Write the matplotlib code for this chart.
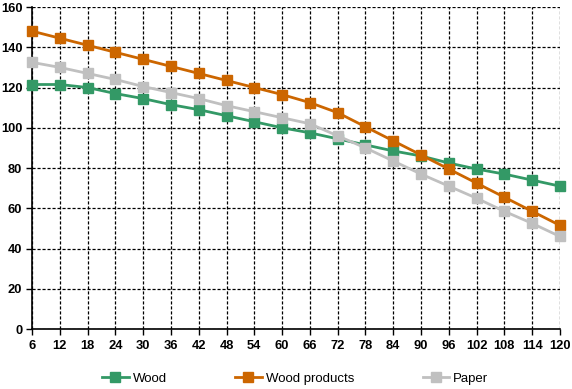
import matplotlib
matplotlib.use("Agg")
import matplotlib.pyplot as plt

months = [6, 12, 18, 24, 30, 36, 42, 48, 54, 60, 66, 72, 78, 84, 90, 96, 102, 108, 114, 120]
wood = [121.5, 121.5, 120, 117, 114.5, 111.5, 109, 106, 103, 100, 97.5, 94.5, 91.5, 88.5, 86, 82.5, 79.5, 77, 74, 71]
wood_products = [148, 144.5, 141, 137.5, 134, 130.5, 127, 123.5, 120, 116.5, 112.5, 107.5, 100.5, 93.5, 86.5, 79.5, 72.5, 65.5, 58.5, 51.5]
paper = [132.5, 130, 127, 124, 120.5, 117.5, 114.5, 111, 108, 105, 102, 96, 90, 83.5, 77, 71, 65, 58.5, 52.5, 46]
yticks = [0, 20, 40, 60, 80, 100, 120, 140, 160]

plt.rcParams['font.family'] = ['Liberation Sans', 'DejaVu Sans']

fig = plt.figure(figsize=(5.72, 3.89), dpi=100)
ax = fig.add_axes([0.056, 0.154, 0.923, 0.828])

series = [("Wood", wood, "#339966"), ("Wood products", wood_products, "#CC6600"), ("Paper", paper, "#C0C0C0")]
for name, vals, col in series:
    ax.plot(months, vals, color=col, lw=2, marker='s', ms=6.5, label=name, clip_on=False, zorder=3)

ax.set_xlim(6, 120)
ax.set_ylim(0, 160)
ax.set_xticks(months)
ax.set_yticks(yticks)
ax.grid(True, color='black', linestyle=(0, (2.5, 1.5)), linewidth=0.9)
ax.set_axisbelow(True)
for s in ['top', 'right']:
    ax.spines[s].set_visible(False)
for s in ['left', 'bottom']:
    ax.spines[s].set_linewidth(1.2)
ax.tick_params(axis='both', direction='out', length=4, width=1, labelsize=9.3)
for lbl in ax.get_xticklabels() + ax.get_yticklabels():
    lbl.set_fontweight('bold')
ax.tick_params(axis='x', pad=3.5)
ax.tick_params(axis='y', pad=3)

fig.legend(loc='center', bbox_to_anchor=(0.516, 0.026), ncol=3, frameon=False,
           fontsize=9.5, columnspacing=5.2, handlelength=2.0, handletextpad=0.3)

fig.savefig("out.png", dpi=100)
